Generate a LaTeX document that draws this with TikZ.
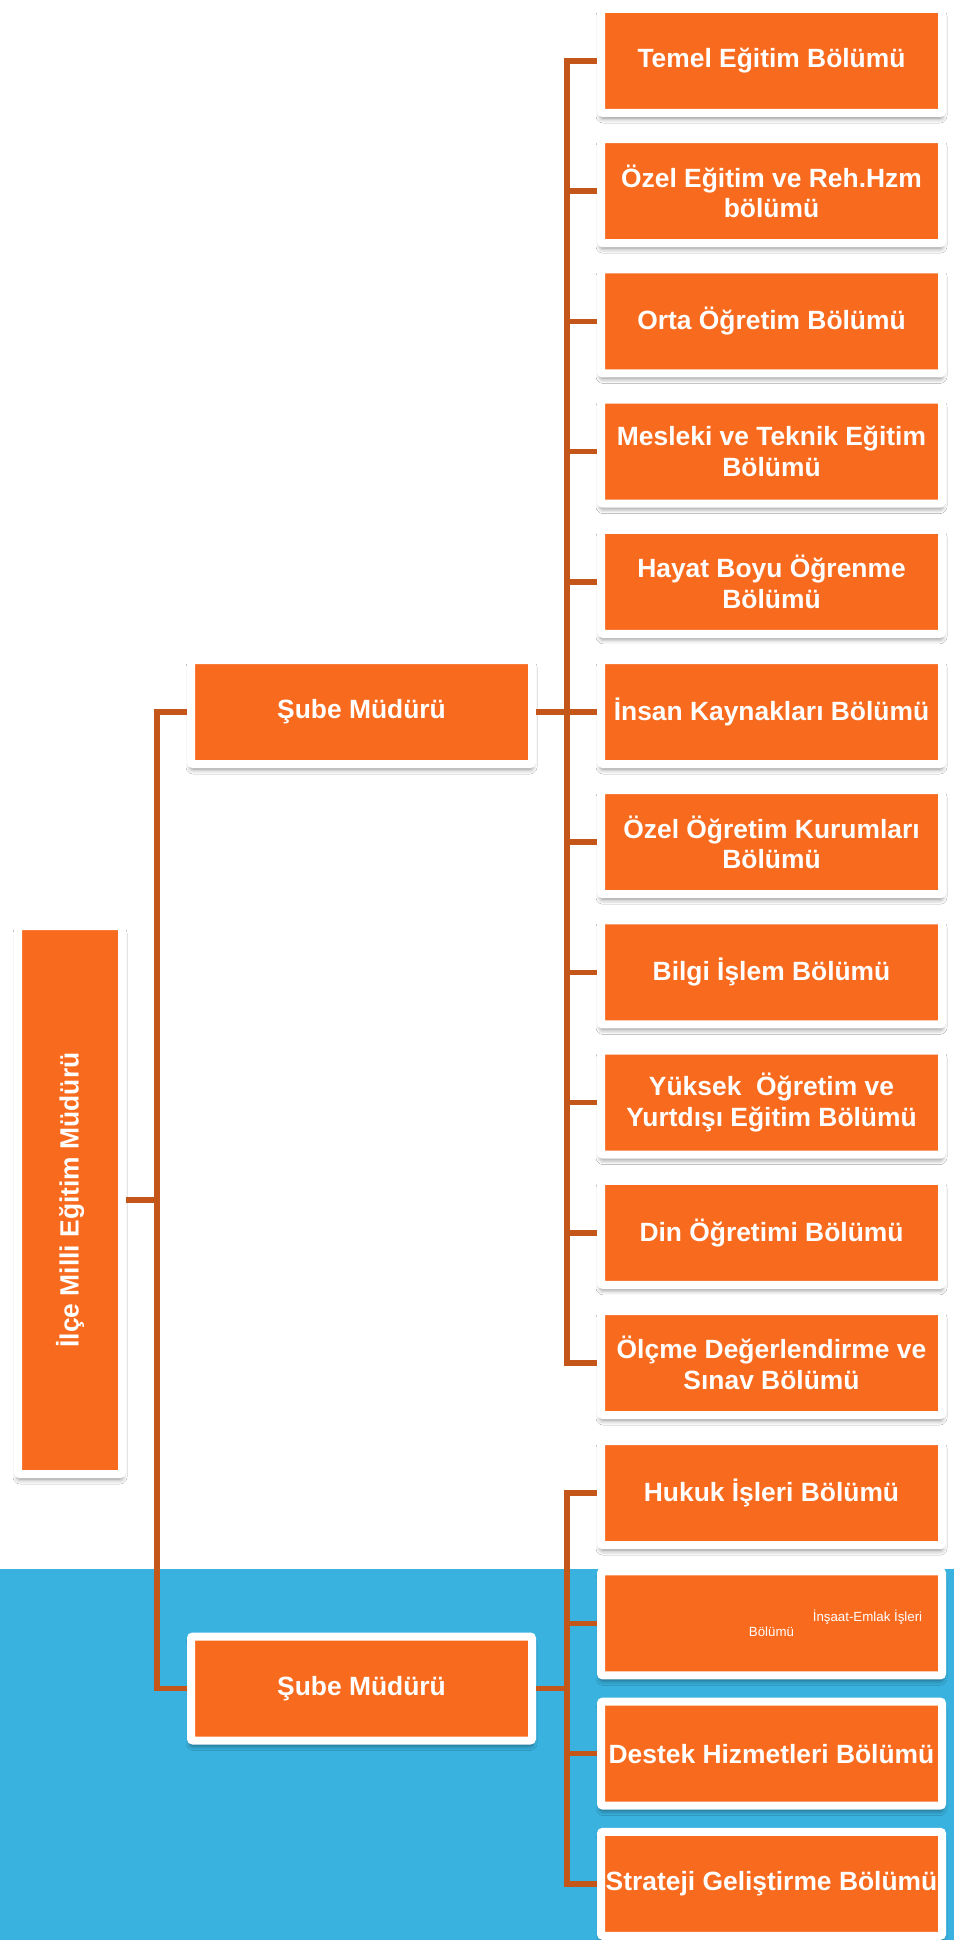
\documentclass[tikz,border=0pt]{standalone}
\usepackage{fontspec}
\setmainfont{Liberation Sans}
\usetikzlibrary{shadows.blur}

\definecolor{turuncu}{RGB}{248,106,29}
\definecolor{hat}{RGB}{197,86,26}
\definecolor{mavi}{RGB}{57,178,223}
\newcommand{\buyuk}{\fontsize{26.4}{30.4}\selectfont\bfseries}
\newcommand{\kucuk}{\fontsize{13.3}{15.3}\selectfont\mdseries}

\begin{document}
\begin{tikzpicture}[x=1pt, y=-1pt,
	kutu/.style={fill=turuncu, draw=white, line width=8pt, rounded corners=2pt, text=white, align=center, font=\buyuk, inner sep=0pt, minimum width=341pt, minimum height=104pt, blur shadow={shadow xshift=0pt, shadow yshift=-5pt, shadow blur radius=5pt, shadow opacity=50}},
	baglanti/.style={draw=hat, line width=5.5pt}]

		% zemin
		\useasboundingbox ( 0, 0 ) rectangle ( 954, 1940 );
		\fill [white] ( 0, 0 ) rectangle ( 954, 1569 );
		\fill [mavi] ( 0, 1569 ) rectangle ( 954, 1940 );

		% müdür
		\node [kutu, minimum width=104pt, minimum height=548pt] (ilce) at ( 70, 1200 ) {\rotatebox{90}{İlçe Milli Eğitim Müdürü}};
		\coordinate (sol) at ( 157, 1200 );

		% şube müdürleri
		\node [kutu] (sube1) at ( 361.5, 712 ) {Şube Müdürü};
		\node [kutu] (sube2) at ( 361.5, 1688.5 ) {Şube Müdürü};
		\coordinate (g1) at ( 567, 712 );
		\coordinate (g2) at ( 567, 1688.5 );

		% birinci şubenin bölümleri
		\node [kutu] (temel) at ( 771.5, 61 ) {Temel Eğitim Bölümü};
		\node [kutu] (ozel) at ( 771.5, 191.2 ) {Özel Eğitim ve Reh.Hzm\\bölümü};
		\node [kutu] (orta) at ( 771.5, 321.4 ) {Orta Öğretim Bölümü};
		\node [kutu] (mesleki) at ( 771.5, 451.6 ) {Mesleki ve Teknik Eğitim\\Bölümü};
		\node [kutu] (hayat) at ( 771.5, 581.8 ) {Hayat Boyu Öğrenme\\Bölümü};
		\node [kutu] (insan) at ( 771.5, 712 ) {İnsan Kaynakları Bölümü};
		\node [kutu] (ozelogr) at ( 771.5, 842.2 ) {Özel Öğretim Kurumları\\Bölümü};
		\node [kutu] (bilgi) at ( 771.5, 972.4 ) {Bilgi İşlem Bölümü};
		\node [kutu] (yuksek) at ( 771.5, 1102.6 ) {Yüksek~~Öğretim ve\\Yurtdışı Eğitim Bölümü};
		\node [kutu] (din) at ( 771.5, 1232.8 ) {Din Öğretimi Bölümü};
		\node [kutu] (olcme) at ( 771.5, 1363 ) {Ölçme Değerlendirme ve\\Sınav Bölümü};

		% ikinci şubenin bölümleri
		\node [kutu] (hukuk) at ( 771.5, 1493.2 ) {Hukuk İşleri Bölümü};
		\node [kutu, font=\kucuk] (insaat) at ( 771.5, 1623.4 ) {\hspace*{192pt}İnşaat-Emlak İşleri\\Bölümü};
		\node [kutu] (destek) at ( 771.5, 1753.6 ) {Destek Hizmetleri Bölümü};
		\node [kutu] (strateji) at ( 771.5, 1883.8 ) {Strateji Geliştirme Bölümü};

		% bağlantılar
		\draw [baglanti] (ilce.east) -- (sol);
		\draw [baglanti] (sol) |- (sube1.west);
		\draw [baglanti] (sol) |- (sube2.west);

		\draw [baglanti] (sube1.east) -- (g1);
		\draw [baglanti] (g1) |- (temel.west);
		\draw [baglanti] (g1) |- (ozel.west);
		\draw [baglanti] (g1) |- (orta.west);
		\draw [baglanti] (g1) |- (mesleki.west);
		\draw [baglanti] (g1) |- (hayat.west);
		\draw [baglanti] (g1) |- (insan.west);
		\draw [baglanti] (g1) |- (ozelogr.west);
		\draw [baglanti] (g1) |- (bilgi.west);
		\draw [baglanti] (g1) |- (yuksek.west);
		\draw [baglanti] (g1) |- (din.west);
		\draw [baglanti] (g1) |- (olcme.west);

		\draw [baglanti] (sube2.east) -- (g2);
		\draw [baglanti] (g2) |- (hukuk.west);
		\draw [baglanti] (g2) |- (insaat.west);
		\draw [baglanti] (g2) |- (destek.west);
		\draw [baglanti] (g2) |- (strateji.west);
	\end{tikzpicture}
\end{document}
